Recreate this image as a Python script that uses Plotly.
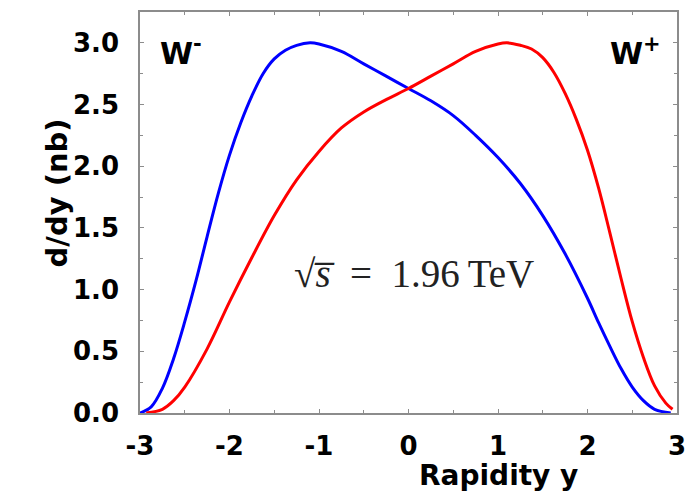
import plotly.graph_objects as go

# Rapidity values (x) and cross-sections (nb)
y_wminus = [-3.0, -2.875, -2.75, -2.625, -2.5, -2.375, -2.25, -2.125, -2.0, -1.875, -1.75,
            -1.625, -1.5, -1.375, -1.25, -1.1, -1.0, -0.75, -0.5, -0.25,
            0.0, 0.25, 0.5, 0.75, 1.0, 1.25, 1.5, 1.75, 2.0, 2.125, 2.25, 2.375, 2.5,
            2.625, 2.75, 2.93]
ds_wminus = [0.0, 0.05, 0.2, 0.44, 0.74, 1.07, 1.43, 1.78, 2.09, 2.35, 2.57,
             2.75, 2.87, 2.94, 2.98, 3.0, 2.99, 2.93, 2.83, 2.73,
             2.63, 2.53, 2.41, 2.25, 2.07, 1.86, 1.60, 1.29, 0.93, 0.73, 0.54, 0.36, 0.21,
             0.1, 0.03, 0.0]

y_wplus = [-2.93, -2.75, -2.625, -2.5, -2.25, -2.0, -1.75, -1.5, -1.25, -1.0, -0.75, -0.5,
           -0.25, 0.0, 0.25, 0.5, 0.75, 1.0, 1.1, 1.25, 1.375, 1.5, 1.625, 1.75, 1.875,
           2.0, 2.125, 2.25, 2.375, 2.5, 2.625, 2.75, 2.875, 2.95]
ds_wplus = [0.0, 0.03, 0.1, 0.21, 0.52, 0.9, 1.26, 1.6, 1.89, 2.12, 2.31, 2.44,
            2.54, 2.63, 2.73, 2.83, 2.93, 2.99, 3.0, 2.98, 2.95, 2.88, 2.76, 2.59, 2.38,
            2.13, 1.82, 1.46, 1.09, 0.74, 0.45, 0.22, 0.08, 0.03]

x_ticks = [-3, -2, -1, 0, 1, 2, 3]
y_ticks = [0.0, 0.5, 1.0, 1.5, 2.0, 2.5, 3.0]

fig = go.Figure()
fig.add_trace(go.Scatter(x=y_wminus, y=ds_wminus, mode="lines",
                         line=dict(color="#0000ff", width=3, shape="spline", smoothing=1.0),
                         showlegend=False))
fig.add_trace(go.Scatter(x=y_wplus, y=ds_wplus, mode="lines",
                         line=dict(color="#ff0000", width=3, shape="spline", smoothing=1.0),
                         showlegend=False))

tickfont = dict(family="DejaVu Sans", size=26, color="black", weight="bold")
axis_common = dict(showline=True, linecolor="#8c8c8c", linewidth=1.5, mirror="ticks",
                   ticks="inside", tickcolor="#8c8c8c", ticklen=4, tickwidth=1,
                   showgrid=False, zeroline=False, tickfont=tickfont)

fig.update_xaxes(range=[-3, 3], tickvals=x_ticks, ticktext=[str(v) for v in x_ticks],
                 minor=dict(dtick=0.5, ticks="inside", ticklen=3, tickcolor="#8c8c8c"),
                 ticklabelstandoff=9, **axis_common)
fig.update_yaxes(range=[0, 3.25], tickvals=y_ticks, ticktext=[f"{v:.1f}" for v in y_ticks],
                 minor=dict(dtick=0.25, ticks="inside", ticklen=3, tickcolor="#8c8c8c"),
                 ticklabelstandoff=14, **axis_common)

ann_font = dict(family="DejaVu Sans", size=30, color="black")
fig.add_annotation(x=-2.54, y=2.93, xref="x", yref="y", text="<b>W<sup>-</sup></b>",
                   showarrow=False, font=ann_font)
fig.add_annotation(x=2.54, y=2.93, xref="x", yref="y", text="<b>W<sup>+</sup></b>",
                   showarrow=False, font=ann_font)
fig.add_annotation(x=0.06, y=1.13, xref="x", yref="y",
                   text="√<i>s̅</i>\u2002=\u20021.96\u2009TeV",
                   showarrow=False, font=dict(family="Liberation Serif", size=39, color="#222"))
fig.add_annotation(x=1.0, y=-0.155, xref="x", yref="paper", text="<b>Rapidity y</b>",
                   showarrow=False, yanchor="middle",
                   font=dict(family="DejaVu Sans", size=28, color="black"))
fig.add_annotation(x=-0.19, y=0.55, xref="paper", yref="paper", text="<b>d/dy (nb)</b>",
                   showarrow=False, textangle=-90,
                   font=dict(family="DejaVu Sans", size=29, color="black"))

fig.update_layout(width=696, height=494, margin=dict(l=140, r=10, t=10, b=81),
                  paper_bgcolor="white", plot_bgcolor="white")
fig.write_html("out.html")
